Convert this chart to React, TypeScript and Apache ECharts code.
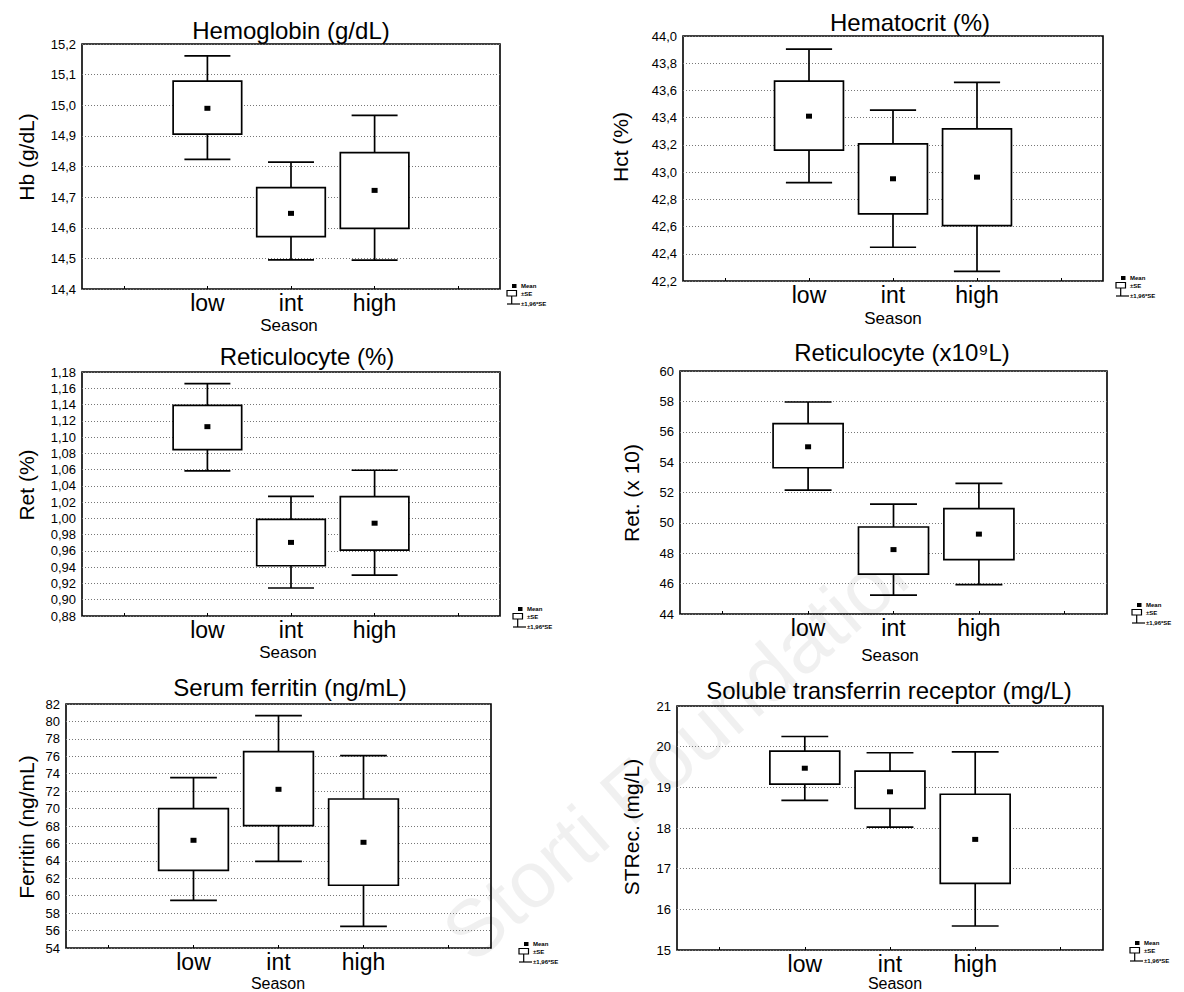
import React, { useEffect, useRef } from 'react';
import * as echarts from 'echarts';

// ---------- data ----------
const seasons = ['low', 'int', 'high'];
const axisCategories = ['', ...seasons, ''];

// Hemoglobin (g/dL)
const hbMean = [14.99, 14.647, 14.722];
const hbSeLow = [14.906, 14.571, 14.598];
const hbSeHigh = [15.079, 14.731, 14.845];
const hbCiLow = [14.823, 14.495, 14.494];
const hbCiHigh = [15.161, 14.814, 14.967];

// Hematocrit (%)
const hctMean = [43.411, 42.951, 42.963];
const hctSeLow = [43.161, 42.693, 42.607];
const hctSeHigh = [43.669, 43.208, 43.318];
const hctCiLow = [42.923, 42.448, 42.271];
const hctCiHigh = [43.904, 43.456, 43.659];

// Reticulocyte (%)
const retPctMean = [1.1128, 0.9705, 0.9941];
const retPctSeLow = [1.0846, 0.9418, 0.961];
const retPctSeHigh = [1.139, 0.9987, 1.0268];
const retPctCiLow = [1.0584, 0.9144, 0.9303];
const retPctCiHigh = [1.1657, 1.027, 1.0592];

// Reticulocyte (x10^9/L)
const retAbsMean = [55.01, 48.24, 49.26];
const retAbsSeLow = [53.63, 46.62, 47.58];
const retAbsSeHigh = [56.54, 49.73, 50.94];
const retAbsCiLow = [52.16, 45.24, 45.94];
const retAbsCiHigh = [57.96, 51.24, 52.6];

// Serum ferritin (ng/mL)
const ferMean = [66.36, 72.21, 66.13];
const ferSeLow = [62.91, 68.04, 61.2];
const ferSeHigh = [69.99, 76.53, 71.1];
const ferCiLow = [59.47, 63.95, 56.49];
const ferCiHigh = [73.55, 80.66, 76.07];

// Soluble transferrin receptor (mg/L)
const stfrMean = [19.47, 18.89, 17.72];
const stfrSeLow = [19.08, 18.48, 16.64];
const stfrSeHigh = [19.89, 19.4, 18.83];
const stfrCiLow = [18.68, 18.02, 15.59];
const stfrCiHigh = [20.25, 19.85, 19.87];

const legendLabels = ['Mean', '±SE', '±1,96*SE'];
const xAxisName = 'Season';

// ---------- panels ----------
const panels = [
  {
    title: 'Hemoglobin (g/dL)', yName: 'Hb (g/dL)',
    mean: hbMean, seLow: hbSeLow, seHigh: hbSeHigh, ciLow: hbCiLow, ciHigh: hbCiHigh,
    min: 14.4, max: 15.2, interval: 0.1, dec: 1,
    grid: { left: 82, top: 44, width: 418, height: 245 },
    titlePos: [291, 30], yNamePos: [26, 157], seasonPos: [289, 325], seasonSize: 17, legendPos: [521, 286],
  },
  {
    title: 'Hematocrit (%)', yName: 'Hct (%)',
    mean: hctMean, seLow: hctSeLow, seHigh: hctSeHigh, ciLow: hctCiLow, ciHigh: hctCiHigh,
    min: 42.2, max: 44.0, interval: 0.2, dec: 1,
    grid: { left: 683, top: 36, width: 420, height: 245 },
    titlePos: [910, 22], yNamePos: [620, 147], seasonPos: [893, 318], seasonSize: 17, legendPos: [1130, 278],
  },
  {
    title: 'Reticulocyte (%)', yName: 'Ret (%)',
    mean: retPctMean, seLow: retPctSeLow, seHigh: retPctSeHigh, ciLow: retPctCiLow, ciHigh: retPctCiHigh,
    min: 0.88, max: 1.18, interval: 0.02, dec: 2,
    grid: { left: 82, top: 372, width: 418, height: 244 },
    titlePos: [307, 356], yNamePos: [26, 485], seasonPos: [288, 652], seasonSize: 17, legendPos: [527, 609],
  },
  {
    title: 'Reticulocyte (x10⁹L)', yName: 'Ret. (x 10)',
    mean: retAbsMean, seLow: retAbsSeLow, seHigh: retAbsSeHigh, ciLow: retAbsCiLow, ciHigh: retAbsCiHigh,
    min: 44, max: 60, interval: 2, dec: 0,
    grid: { left: 680, top: 371, width: 427, height: 243 },
    titlePos: [902, 352], yNamePos: [631, 493], seasonPos: [890, 655], seasonSize: 17, legendPos: [1146, 605],
  },
  {
    title: 'Serum ferritin (ng/mL)', yName: 'Ferritin (ng/mL)',
    mean: ferMean, seLow: ferSeLow, seHigh: ferSeHigh, ciLow: ferCiLow, ciHigh: ferCiHigh,
    min: 54, max: 82, interval: 2, dec: 0,
    grid: { left: 66, top: 704, width: 425, height: 244 },
    titlePos: [290, 687], yNamePos: [26, 827], seasonPos: [278, 983], seasonSize: 16, legendPos: [533, 944],
  },
  {
    title: 'Soluble transferrin receptor (mg/L)', yName: 'STRec. (mg/L)',
    mean: stfrMean, seLow: stfrSeLow, seHigh: stfrSeHigh, ciLow: stfrCiLow, ciHigh: stfrCiHigh,
    min: 15, max: 21, interval: 1, dec: 0,
    grid: { left: 677, top: 706, width: 426, height: 244 },
    titlePos: [889, 690], yNamePos: [631, 827], seasonPos: [895, 983], seasonSize: 16, legendPos: [1144, 943],
  },
];

const FONT = '"Liberation Sans", Arial, Helvetica, sans-serif';

function renderBox(params: any, api: any) {
  const x = api.value(0);
  const c1 = api.coord([x, api.value(1)]);
  const cx = c1[0];
  const yCiHi = c1[1];
  const yBoxHi = api.coord([x, api.value(2)])[1];
  const yMean = api.coord([x, api.value(3)])[1];
  const yBoxLo = api.coord([x, api.value(4)])[1];
  const yCiLo = api.coord([x, api.value(5)])[1];
  const slot = api.size([1, 0])[0];
  const bw = slot * 0.82;
  const cw = slot * 0.55;
  const ls = { stroke: '#000', lineWidth: 1.7 };
  return {
    type: 'group',
    children: [
      { type: 'line', shape: { x1: cx, y1: yCiHi, x2: cx, y2: yBoxHi }, style: ls },
      { type: 'line', shape: { x1: cx, y1: yBoxLo, x2: cx, y2: yCiLo }, style: ls },
      { type: 'line', shape: { x1: cx - cw / 2, y1: yCiHi, x2: cx + cw / 2, y2: yCiHi }, style: ls },
      { type: 'line', shape: { x1: cx - cw / 2, y1: yCiLo, x2: cx + cw / 2, y2: yCiLo }, style: ls },
      {
        type: 'rect',
        shape: { x: cx - bw / 2, y: yBoxHi, width: bw, height: yBoxLo - yBoxHi },
        style: { stroke: '#000', lineWidth: 1.7, fill: '#fff' },
      },
      { type: 'rect', shape: { x: cx - 3, y: yMean - 2.5, width: 6, height: 5 }, style: { fill: '#000' } },
    ],
  };
}

function legendGraphics(lx: number, ly: number) {
  const tstyle = (t: string, y: number) => ({
    type: 'text', x: lx, y,
    style: { text: t, fontSize: 6, fontWeight: 'bold', fontFamily: FONT, fill: '#000', textVerticalAlign: 'middle', textAlign: 'left' },
  });
  return [
    { type: 'rect', shape: { x: lx - 9, y: ly - 2, width: 4.5, height: 4 }, style: { fill: '#000' } },
    { type: 'rect', shape: { x: lx - 14, y: ly + 4.5, width: 9.5, height: 5.5 }, style: { stroke: '#000', lineWidth: 1.2, fill: '#fff' } },
    { type: 'line', shape: { x1: lx - 9.3, y1: ly + 10, x2: lx - 9.3, y2: ly + 18 }, style: { stroke: '#000', lineWidth: 1.2 } },
    { type: 'line', shape: { x1: lx - 14, y1: ly + 18, x2: lx - 1, y2: ly + 18 }, style: { stroke: '#000', lineWidth: 1.2 } },
    tstyle(legendLabels[0], ly),
    tstyle(legendLabels[1], ly + 7.5),
    tstyle(legendLabels[2], ly + 18),
  ];
}

export default function App() {
  const ref = useRef<HTMLDivElement>(null);

  useEffect(() => {
    if (!ref.current) return;
    const chart = echarts.init(ref.current, undefined, { renderer: 'svg' });

    const grids: any[] = [];
    const xAxes: any[] = [];
    const yAxes: any[] = [];
    const series: any[] = [];
    const graphics: any[] = [];

    // watermark
    graphics.push({
      type: 'text', x: 685, y: 745, rotation: (41 * Math.PI) / 180, z: 0,
      style: {
        text: 'Storti Foundation', fontSize: 80, fontFamily: FONT, fill: 'rgba(0,0,0,0.06)',
        textAlign: 'center', textVerticalAlign: 'middle',
      },
    });

    panels.forEach((p, i) => {
      grids.push({ ...p.grid, show: true, borderColor: '#000', borderWidth: 1.6, backgroundColor: 'transparent' });
      xAxes.push({
        type: 'category', gridIndex: i, data: axisCategories, boundaryGap: true,
        axisLine: { show: false },
        axisTick: { show: true, inside: true, length: 3, alignWithLabel: true, interval: 0, lineStyle: { color: '#000' } },
        axisLabel: { interval: 0, fontSize: 23, color: '#000', fontFamily: FONT, margin: 2 },
        splitLine: { show: false },
      });
      yAxes.push({
        type: 'value', gridIndex: i, min: p.min, max: p.max, interval: p.interval,
        axisLine: { show: false }, axisTick: { show: false },
        axisLabel: {
          fontSize: 13, color: '#000', fontFamily: FONT, margin: 6,
          formatter: (v: number) => v.toFixed(p.dec).replace('.', ','),
        },
        splitLine: { show: true, lineStyle: { color: '#777', type: [1, 2], width: 1 } },
      });
      series.push({
        type: 'custom', xAxisIndex: i, yAxisIndex: i, z: 3,
        renderItem: renderBox,
        encode: { x: 0, y: [1, 2, 3, 4, 5] },
        data: seasons.map((_, k) => [k + 1, p.ciHigh[k], p.seHigh[k], p.mean[k], p.seLow[k], p.ciLow[k]]),
      });
      graphics.push({
        type: 'text', x: p.titlePos[0], y: p.titlePos[1],
        style: { text: p.title, fontSize: 24, fontFamily: FONT, fill: '#000', textAlign: 'center', textVerticalAlign: 'middle' },
      });
      graphics.push({
        type: 'text', x: p.yNamePos[0], y: p.yNamePos[1], rotation: Math.PI / 2,
        style: { text: p.yName, fontSize: 21, fontFamily: FONT, fill: '#000', textAlign: 'center', textVerticalAlign: 'middle' },
      });
      graphics.push({
        type: 'text', x: p.seasonPos[0], y: p.seasonPos[1],
        style: { text: xAxisName, fontSize: p.seasonSize, fontFamily: FONT, fill: '#000', textAlign: 'center', textVerticalAlign: 'middle' },
      });
      graphics.push(...legendGraphics(p.legendPos[0], p.legendPos[1]));
    });

    chart.setOption({
      animation: false,
      backgroundColor: '#fff',
      grid: grids,
      xAxis: xAxes,
      yAxis: yAxes,
      series,
      graphic: graphics,
    });

    return () => chart.dispose();
  }, []);

  return (
    <div
      ref={ref}
      style={{ position: 'absolute', left: 0, top: 0, width: 1184, height: 992, background: '#fff' }}
    />
  );
}
